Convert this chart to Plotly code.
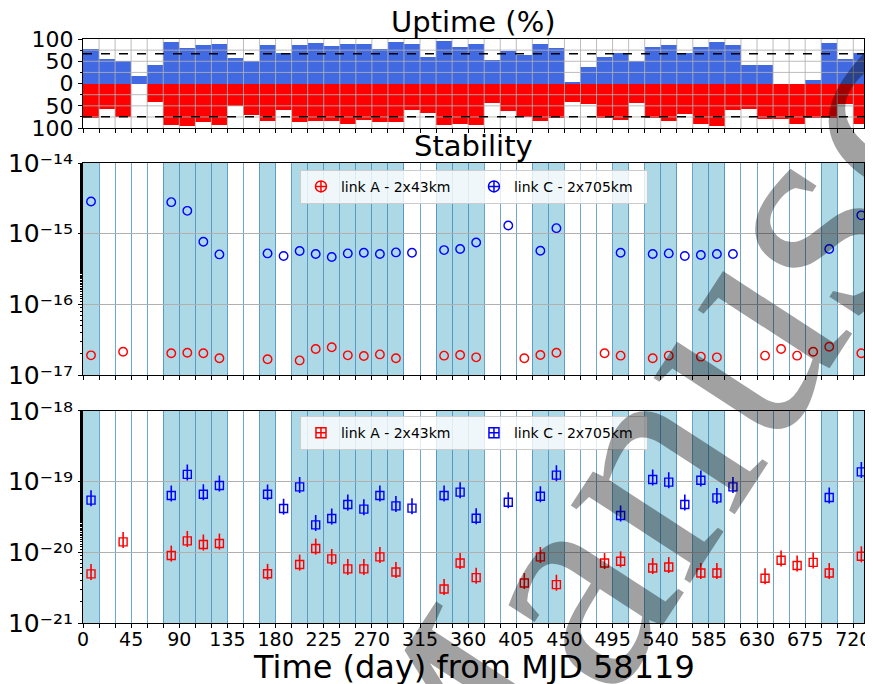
import plotly.graph_objects as go

# ---------------- data ----------------
bin_width = 15
bin_start = list(range(0, 735, 15))          # 49 bins of 15 days
bin_center = [b + bin_width / 2 for b in bin_start]

# uptime (%) per 15-day bin
uptime_C = [77, 55, 50, 17, 42, 94, 80, 86, 89, 57, 50, 86, 68, 87, 92, 84, 89, 88, 78, 94,
            88, 59, 95, 83, 89, 53, 74, 65, 89, 80, 4, 38, 59, 68, 50, 82, 87, 68, 83, 93,
            86, 42, 42, 0, 0, 8, 92, 55, 68]
uptime_A = [78, 58, 74, 0, 42, 92, 96, 87, 92, 50, 70, 83, 60, 87, 85, 83, 90, 81, 87, 87,
            60, 66, 92, 90, 92, 44, 62, 76, 83, 77, 42, 46, 78, 81, 44, 78, 85, 69, 90, 95,
            60, 56, 80, 80, 90, 77, 77, 46, 90]
thr_C = 66.7
thr_A = 74.5

# stability (bins that have a value)
bins_C = [0, 5, 6, 7, 8, 11, 12, 13, 14, 15, 16, 17, 18, 19, 20, 22, 23, 24, 26, 28, 29, 33,
          35, 36, 37, 38, 39, 40, 46, 48]
bins_A = [0, 2, 5, 6, 7, 8, 11, 13, 14, 15, 16, 17, 18, 19, 22, 23, 24, 27, 28, 29, 32, 33,
          35, 36, 38, 39, 42, 43, 44, 45, 46, 48]

stab1_C = [2.86e-15, 2.8e-15, 2.11e-15, 7.7e-16, 5.1e-16, 5.27e-16, 4.83e-16, 5.7e-16, 5.16e-16,
           4.68e-16, 5.27e-16, 5.38e-16, 5.16e-16, 5.44e-16, 5.38e-16, 5.87e-16, 6.07e-16, 7.5e-16,
           1.31e-15, 5.75e-16, 1.2e-15, 5.38e-16, 5.16e-16, 5.27e-16, 4.83e-16, 5.0e-16, 5.16e-16,
           5.16e-16, 6.07e-16, 1.82e-15]
stab1_A = [1.9e-17, 2.14e-17, 2.03e-17, 2.07e-17, 2.03e-17, 1.73e-17, 1.67e-17, 1.61e-17, 2.34e-17,
           2.47e-17, 1.9e-17, 1.86e-17, 1.96e-17, 1.73e-17, 1.88e-17, 1.92e-17, 1.78e-17, 1.73e-17,
           1.92e-17, 2.07e-17, 2.03e-17, 1.88e-17, 1.73e-17, 1.88e-17, 1.82e-17, 1.78e-17, 1.88e-17,
           2.34e-17, 1.88e-17, 2.14e-17, 2.52e-17, 2.03e-17]

stab2_C = [5.45e-20, 6.34e-20, 1.26e-19, 6.62e-20, 8.79e-20, 6.6e-20, 4.15e-20, 8.4e-20, 2.44e-20,
           3.0e-20, 4.73e-20, 4.07e-20, 6.34e-20, 4.53e-20, 4.2e-20, 6.34e-20, 7.07e-20, 3.03e-20,
           5.1e-20, 6.2e-20, 1.23e-19, 3.31e-20, 1.07e-19, 9.8e-20, 4.73e-20, 1.04e-19, 5.87e-20,
           8.4e-20, 5.94e-20, 1.37e-19]
stab2_A = [4.94e-21, 1.4e-20, 9.0e-21, 1.45e-20, 1.29e-20, 1.33e-20, 4.97e-21, 6.7e-21, 1.13e-20,
           8.05e-21, 5.82e-21, 5.82e-21, 8.6e-21, 5.27e-21, 3.03e-21, 7.06e-21, 4.38e-21, 3.68e-21,
           8.6e-21, 3.49e-21, 7.06e-21, 7.46e-21, 6.0e-21, 6.2e-21, 5.1e-21, 5.1e-21, 4.3e-21,
           7.7e-21, 6.5e-21, 7.2e-21, 5.1e-21, 8.8e-21]
err_up = 0.38     # relative error bar (upper)
err_dn = 0.18     # relative error bar (lower)

# axis tick values / labels
up_tickvals = [-100, -50, 0, 50, 100]
up_ticktext = ["100", "50", "0", "50", "100"]
mid_decades = [-17, -16, -15, -14]
bot_decades = [-21, -20, -19, -18]

name_A = "link A - 2x43km"
name_C = "link C - 2x705km"
xlabel = "Time (day) from MJD 58119"

SUP = str.maketrans("-0123456789", "\u207b\u2070\u00b9\u00b2\u00b3\u2074\u2075\u2076\u2077\u2078\u2079")


def dec_label(e):
    return "10" + str(e).translate(SUP)


# ---------------- figure ----------------
FONT = "DejaVu Sans"
BLUE_BAR = "royalblue"
RED = "#ff0000"
BLUE = "#0000ff"
VLINE = "rgba(31,119,180,0.65)"
SHADE = "lightblue"

fig = go.Figure()

# uptime bars
fig.add_trace(go.Bar(x=bin_center, y=uptime_C, width=bin_width, marker=dict(color=BLUE_BAR, line=dict(width=0)),
                     xaxis="x", yaxis="y", showlegend=False, hoverinfo="skip"))
fig.add_trace(go.Bar(x=bin_center, y=[-v for v in uptime_A], width=bin_width,
                     marker=dict(color=RED, line=dict(width=0)),
                     xaxis="x", yaxis="y", showlegend=False, hoverinfo="skip"))

# middle panel
xA = [bin_center[k] for k in bins_A]
xC = [bin_center[k] for k in bins_C]
fig.add_trace(go.Scatter(x=xA, y=stab1_A, mode="markers", xaxis="x2", yaxis="y2", showlegend=False,
                         marker=dict(symbol="circle-open", size=8.5, color=RED, line=dict(width=1.4))))
fig.add_trace(go.Scatter(x=xC, y=stab1_C, mode="markers", xaxis="x2", yaxis="y2", showlegend=False,
                         marker=dict(symbol="circle-open", size=8.5, color=BLUE, line=dict(width=1.4))))
fig.add_trace(go.Scatter(x=[None], y=[None], mode="markers", xaxis="x2", yaxis="y2", name=name_A, legend="legend",
                         marker=dict(symbol="circle-cross-open", size=11, color=RED, line=dict(width=1.5))))
fig.add_trace(go.Scatter(x=[None], y=[None], mode="markers", xaxis="x2", yaxis="y2", name=name_C, legend="legend",
                         marker=dict(symbol="circle-cross-open", size=11, color=BLUE, line=dict(width=1.5))))

# bottom panel
for xs, ys, col in [(xA, stab2_A, RED), (xC, stab2_C, BLUE)]:
    fig.add_trace(go.Scatter(x=xs, y=ys, mode="markers", xaxis="x3", yaxis="y3", showlegend=False,
                             marker=dict(symbol="square-open", size=8, color=col, line=dict(width=1.4)),
                             error_y=dict(type="data", symmetric=False,
                                          array=[v * err_up for v in ys], arrayminus=[v * err_dn for v in ys],
                                          thickness=1.6, width=0, color=col)))
fig.add_trace(go.Scatter(x=[None], y=[None], mode="markers", xaxis="x3", yaxis="y3", name=name_A, legend="legend2",
                         marker=dict(symbol="square-cross-open", size=10, color=RED, line=dict(width=1.5))))
fig.add_trace(go.Scatter(x=[None], y=[None], mode="markers", xaxis="x3", yaxis="y3", name=name_C, legend="legend2",
                         marker=dict(symbol="square-cross-open", size=10, color=BLUE, line=dict(width=1.5))))

shapes = []
# top panel grid (drawn over the bars)
for b in bin_start[1:]:
    shapes.append(dict(type="line", xref="x", yref="y domain", x0=b, x1=b, y0=0, y1=1,
                       line=dict(color="rgba(176,176,176,0.85)", width=1), layer="above"))
for v in [-75, -50, -25, 25, 50, 75]:
    shapes.append(dict(type="line", xref="x domain", yref="y", x0=0, x1=1, y0=v, y1=v,
                       line=dict(color="rgba(176,176,176,0.85)", width=1), layer="above"))
# thresholds
shapes.append(dict(type="line", xref="x domain", yref="y", x0=0, x1=1, y0=thr_C, y1=thr_C,
                   line=dict(color="black", width=1.5, dash="dash"), layer="above"))
shapes.append(dict(type="line", xref="x domain", yref="y", x0=0, x1=1, y0=-thr_A, y1=-thr_A,
                   line=dict(color="black", width=1.5, dash="dash"), layer="above"))
# shaded good bins
for k, b in enumerate(bin_start):
    if uptime_C[k] > thr_C and uptime_A[k] > thr_A:
        for xr, yr in [("x2", "y2 domain"), ("x3", "y3 domain")]:
            shapes.append(dict(type="rect", xref=xr, yref=yr, x0=b, x1=b + bin_width, y0=0, y1=1,
                               fillcolor=SHADE, line=dict(width=0), layer="below"))

axis_common = dict(showline=True, mirror=True, linecolor="black", linewidth=1, zeroline=False,
                   ticks="outside", tickcolor="black", ticklen=4, tickwidth=1, automargin=False)
x_common = dict(range=[0, 730], tick0=0, dtick=45, **axis_common)
log_minor = dict(ticks="outside", ticklen=2.5, tickcolor="black", showgrid=False)

# the page body has an 8px margin: the figure is sized so that it ends at the window edges
fig.update_layout(
    width=865, height=676,
    margin=dict(l=75.3, r=9, t=31.3, b=61.3, autoexpand=False),
    paper_bgcolor="white", plot_bgcolor="white",
    font=dict(family=FONT, color="black"),
    barmode="overlay", bargap=0,
    shapes=shapes,
    xaxis=dict(domain=[0, 1], anchor="y", showticklabels=False, showgrid=False,
               minor=dict(dtick=15, tick0=0, ticks="outside", ticklen=4, tickcolor="black", showgrid=False),
               **x_common),
    yaxis=dict(domain=[0.8474, 1.0], anchor="x", range=[-100, 100], tickmode="array",
               tickvals=up_tickvals, ticktext=up_ticktext,
               minor=dict(tickmode="array", tickvals=[-75, -25, 25, 75], ticks="outside", ticklen=2.5,
                          tickcolor="black", showgrid=False),
               showgrid=False, tickfont=dict(size=22), **axis_common),
    xaxis2=dict(domain=[0, 1], anchor="y2", showticklabels=False, showgrid=True, gridcolor=VLINE, gridwidth=1,
                minor=dict(dtick=15, tick0=0, ticks="outside", ticklen=4, tickcolor="black",
                           showgrid=True, gridcolor=VLINE, gridwidth=1),
                **x_common),
    yaxis2=dict(domain=[0.4246, 0.7875], anchor="x2", type="log", range=[-17, -14],
                tickmode="array", tickvals=[10.0 ** e for e in mid_decades],
                ticktext=[dec_label(e) for e in mid_decades],
                showgrid=True, gridcolor="#b0b0b0", tickfont=dict(size=25),
                minor=log_minor, **axis_common),
    xaxis3=dict(domain=[0, 1], anchor="y3", showticklabels=True, showgrid=True, gridcolor=VLINE, gridwidth=1,
                tickfont=dict(size=19), ticklabelstandoff=-5,
                minor=dict(dtick=15, tick0=0, ticks="outside", ticklen=4, tickcolor="black",
                           showgrid=True, gridcolor=VLINE, gridwidth=1),
                **x_common),
    yaxis3=dict(domain=[0, 0.3634], anchor="x3", type="log", range=[-21, -18],
                tickmode="array", tickvals=[10.0 ** e for e in bot_decades],
                ticktext=[dec_label(e) for e in bot_decades],
                showgrid=True, gridcolor="#b0b0b0", tickfont=dict(size=25),
                minor=log_minor, **axis_common),
    legend=dict(orientation="h", x=0.5006, xanchor="center", y=0.776, yanchor="top",
                bgcolor="rgba(255,255,255,0.8)", bordercolor="rgba(204,204,204,1)", borderwidth=1,
                font=dict(size=14), entrywidth=128),
    legend2=dict(orientation="h", x=0.5006, xanchor="center", y=0.3543, yanchor="top",
                 bgcolor="rgba(255,255,255,0.8)", bordercolor="rgba(204,204,204,1)", borderwidth=1,
                 font=dict(size=14), entrywidth=128),
    annotations=[
        dict(text="Uptime (%)", xref="paper", yref="paper", x=0.5006, y=1.0, xanchor="center", yanchor="bottom",
             showarrow=False, font=dict(size=29), yshift=-2),
        dict(text="Stability", xref="paper", yref="paper", x=0.5006, y=0.7875, xanchor="center", yanchor="bottom",
             showarrow=False, font=dict(size=29), yshift=-2),
        dict(text=xlabel, xref="paper", yref="paper", x=0.5006, y=0, xanchor="center", yanchor="top",
             showarrow=False, font=dict(size=32), yshift=-23),
        dict(text="Manuscript", xref="paper", yref="paper", x=0.8655, y=0.5771, xanchor="center", yanchor="middle",
             showarrow=False, textangle=-57, font=dict(family="Liberation Serif", size=310, color="rgba(0,0,0,0.37)")),
    ],
)

fig.write_html("out.html")
